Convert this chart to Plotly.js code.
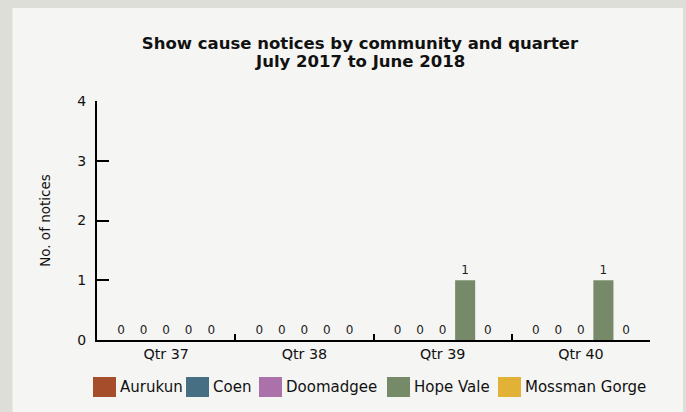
<!DOCTYPE html>
<html>
<head>
<meta charset="utf-8">
<script src="https://cdn.plot.ly/plotly-3.0.1.min.js"></script>
<style>html,body{margin:0;padding:0;background:#dcded7;}#chart{width:686px;height:412px;}</style>
</head>
<body>
<div id="chart"></div>
<script>
const quarters = ["Qtr 37", "Qtr 38", "Qtr 39", "Qtr 40"];
const communities = ["Aurukun", "Coen", "Doomadgee", "Hope Vale", "Mossman Gorge"];
const aurukun = [0, 0, 0, 0];
const coen = [0, 0, 0, 0];
const doomadgee = [0, 0, 0, 0];
const hopeVale = [0, 0, 1, 1];
const mossmanGorge = [0, 0, 0, 0];
const colors = ["#a64d2c", "#476f83", "#ab72aa", "#768a69", "#e1b235"];
const titleLine1 = "Show cause notices by community and quarter";
const titleLine2 = "July 2017 to June 2018";
const yTitle = "No. of notices";

const seriesValues = [aurukun, coen, doomadgee, hopeVale, mossmanGorge];
const FONT = "DejaVu Sans, Verdana, sans-serif";

// layout geometry (pixels)
const W = 686, H = 412;
const M = {l: 97, r: 36, t: 101, b: 72};
const plotW = W - M.l - M.r, plotH = H - M.t - M.b;
const px2x = p => (p - M.l) / plotW;
const py2y = p => (H - M.b - p) / plotH;

// custom legend placement (pixels)
const legendSwatchLeft = [93, 186, 259, 387, 498];
const legendTop = 377, swatchW = 23, swatchH = 20;

const traces = communities.map((name, i) => ({
  type: "bar",
  name: name,
  x: quarters,
  y: seriesValues[i],
  marker: {color: colors[i]},
  text: seriesValues[i].map(v => String(v)),
  textposition: "outside",
  textfont: {family: FONT, size: 12, color: "#222"},
  cliponaxis: false,
  hoverinfo: "skip",
  showlegend: false
}));

const shapes = [{
  type: "rect", xref: "paper", yref: "paper", layer: "below",
  x0: px2x(12.5), x1: px2x(683), y0: py2y(420), y1: py2y(8),
  fillcolor: "#f5f5f3", line: {width: 0}
}];
const annotations = [{
  text: "<b>" + titleLine2 + "</b>",
  xref: "paper", yref: "paper",
  x: px2x(360), y: py2y(61), xanchor: "center", yanchor: "middle",
  showarrow: false,
  font: {family: FONT, size: 16.5, color: "#111"}
}];
communities.forEach((name, i) => {
  const sx = legendSwatchLeft[i];
  shapes.push({
    type: "rect", xref: "paper", yref: "paper",
    x0: px2x(sx), x1: px2x(sx + swatchW),
    y0: py2y(legendTop + swatchH), y1: py2y(legendTop),
    fillcolor: colors[i], line: {width: 0}
  });
  annotations.push({
    text: name, xref: "paper", yref: "paper",
    x: px2x(sx + swatchW + 2), y: py2y(legendTop + swatchH / 2),
    xanchor: "left", yanchor: "middle", showarrow: false,
    font: {family: FONT, size: 15, color: "#111"}
  });
});

const layout = {
  width: W,
  height: H,
  margin: M,
  paper_bgcolor: "#dcded7",
  plot_bgcolor: "rgba(0,0,0,0)",
  font: {family: FONT, color: "#111"},
  barmode: "group",
  bargap: 0.185,
  bargroupgap: 0.11,
  showlegend: false,
  title: {
    text: "<b>" + titleLine1 + "</b>",
    font: {family: FONT, size: 16.5, color: "#111"},
    x: 360 / W, xanchor: "center",
    y: 1 - 43 / H, yanchor: "middle", yref: "container"
  },
  xaxis: {
    type: "category",
    tickson: "boundaries",
    ticks: "inside",
    ticklen: 6,
    tickwidth: 2,
    tickcolor: "#000",
    showline: true,
    linecolor: "#000",
    linewidth: 2,
    showgrid: false,
    zeroline: false,
    tickfont: {family: FONT, size: 14.3, color: "#111"},
    fixedrange: true
  },
  yaxis: {
    range: [0, 4],
    dtick: 1,
    ticks: "inside",
    ticklen: 12,
    tickwidth: 2,
    tickcolor: "#000",
    showline: true,
    linecolor: "#000",
    linewidth: 2,
    showgrid: false,
    zeroline: false,
    ticklabelstandoff: 6,
    tickfont: {family: FONT, size: 14, color: "#111"},
    title: {text: yTitle, font: {family: FONT, size: 13.5, color: "#111"}, standoff: 24},
    fixedrange: true
  },
  shapes: shapes,
  annotations: annotations
};

Plotly.newPlot("chart", traces, layout, {displayModeBar: false, staticPlot: true});
</script>
</body>
</html>
